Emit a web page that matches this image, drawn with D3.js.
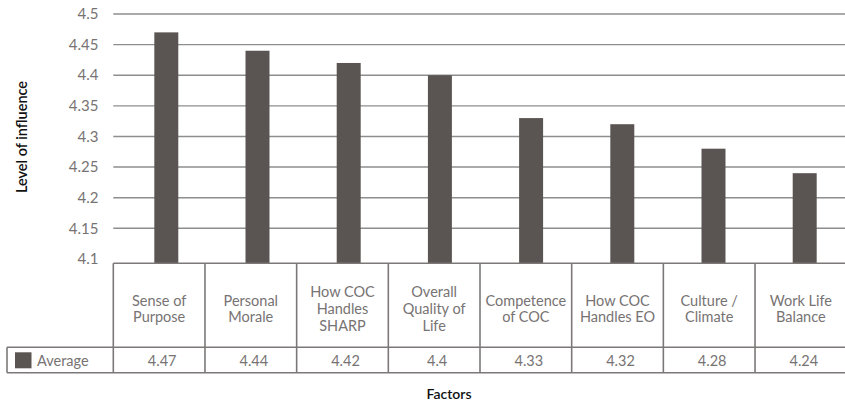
<!DOCTYPE html>
<html>
<head>
<meta charset="utf-8">
<script src="https://cdn.jsdelivr.net/npm/d3@7"></script>
<style>
  html, body { margin: 0; padding: 0; background: #fff; }
  svg { display: block; }
  text { font-family: Lato, "Open Sans", sans-serif; }
</style>
</head>
<body>
<svg id="chart" width="845" height="405"></svg>
<script>
// Factor names (line breaks as shown in the table header cells)
const categories = [
  "Sense of\nPurpose",
  "Personal\nMorale",
  "How COC\nHandles\nSHARP",
  "Overall\nQuality of\nLife",
  "Competence\nof COC",
  "How COC\nHandles EO",
  "Culture /\nClimate",
  "Work Life\nBalance"
];
const seriesName = "Average";
const averages = [4.47, 4.44, 4.42, 4.4, 4.33, 4.32, 4.28, 4.24];
const yTickValues = [4.1, 4.15, 4.2, 4.25, 4.3, 4.35, 4.4, 4.45, 4.5];
const yTickLabels = ["4.1", "4.15", "4.2", "4.25", "4.3", "4.35", "4.4", "4.45", "4.5"];
const yTitle = "Level of influence";
const xTitle = "Factors";

const svg = d3.select("#chart");

const barColor = "#5a5553";
const gridColor = "#8e8e8e";
const tableLine = "#7c7878";
const textGray = "#777373";

// Layout
const tableLeft = 113.3, tableRight = 846.7;
const tableTop = 263.3, headerBottom = 347.3, tableBottom = 372.7;
const legendLeft = 7;

const y = d3.scaleLinear().domain([4.1, 4.5]).range([258.9, 14]);
const xBars = d3.scaleBand().domain(categories).range([120.7, 850.3]);
const xTable = d3.scaleBand().domain(categories).range([tableLeft, tableRight]);
const barWidth = xBars.bandwidth() * 0.263;

// Gridlines
svg.append("g").selectAll("line")
  .data(yTickValues.filter(v => v > 4.1))
  .join("line")
  .attr("x1", tableLeft).attr("x2", 847)
  .attr("y1", d => y(d)).attr("y2", d => y(d))
  .attr("stroke", gridColor).attr("stroke-width", 1.4);

// Y tick labels
svg.append("g").selectAll("text")
  .data(yTickValues)
  .join("text")
  .attr("x", 98.5)
  .attr("y", d => y(d))
  .attr("dy", "0.35em")
  .attr("text-anchor", "end")
  .attr("font-size", 15)
  .attr("fill", textGray)
  .text((d, i) => yTickLabels[i]);

// Bars
svg.append("g").selectAll("rect")
  .data(averages)
  .join("rect")
  .attr("x", (d, i) => xBars(categories[i]) + (xBars.bandwidth() - barWidth) / 2)
  .attr("y", d => y(d))
  .attr("width", barWidth)
  .attr("height", d => tableTop - y(d))
  .attr("fill", barColor);

// Data table
const tbl = svg.append("g").attr("stroke", tableLine).attr("stroke-width", 1.6).attr("fill", "none");
tbl.append("line").attr("x1", tableLeft).attr("x2", 847).attr("y1", tableTop).attr("y2", tableTop);
tbl.append("line").attr("x1", legendLeft).attr("x2", 847).attr("y1", headerBottom).attr("y2", headerBottom);
tbl.append("line").attr("x1", legendLeft).attr("x2", 847).attr("y1", tableBottom).attr("y2", tableBottom);
tbl.append("line").attr("x1", legendLeft).attr("x2", legendLeft).attr("y1", headerBottom).attr("y2", tableBottom);
tbl.selectAll("line.col")
  .data(categories)
  .join("line")
  .attr("class", "col")
  .attr("x1", d => xTable(d)).attr("x2", d => xTable(d))
  .attr("y1", tableTop).attr("y2", tableBottom);

// Header cells: factor names
const lh = 16.8;
const headerMid = 314;
svg.append("g").selectAll("text")
  .data(categories)
  .join("text")
  .attr("text-anchor", "middle")
  .attr("font-size", 14.5)
  .attr("fill", textGray)
  .each(function(d) {
    const lines = d.split("\n");
    const cx = xTable(d) + xTable.bandwidth() / 2;
    const first = headerMid - (lines.length - 1) * lh / 2;
    d3.select(this).selectAll("tspan")
      .data(lines)
      .join("tspan")
      .attr("x", cx)
      .attr("y", (l, i) => first + i * lh)
      .text(l => l);
  });

// Value row
svg.append("g").selectAll("text")
  .data(averages)
  .join("text")
  .attr("x", (d, i) => xTable(categories[i]) + xTable.bandwidth() / 2 + 3)
  .attr("y", 365.5)
  .attr("text-anchor", "middle")
  .attr("font-size", 14.5)
  .attr("fill", textGray)
  .text(d => d3.format("")(d));

// Legend key in the series cell
svg.append("rect")
  .attr("x", 15).attr("y", 352.3).attr("width", 16.5).attr("height", 16)
  .attr("fill", barColor);
svg.append("text")
  .attr("x", 37).attr("y", 365.5)
  .attr("font-size", 14.5)
  .attr("fill", textGray)
  .text(seriesName);

// Axis titles
svg.append("text")
  .attr("transform", "translate(27,137) rotate(-90)")
  .attr("text-anchor", "middle")
  .attr("font-size", 14.5)
  .attr("font-weight", 600)
  .attr("fill", "#111")
  .text(yTitle);
svg.append("text")
  .attr("x", 449).attr("y", 399)
  .attr("text-anchor", "middle")
  .attr("font-size", 14)
  .attr("font-weight", 600)
  .attr("fill", "#111")
  .text(xTitle);
</script>
</body>
</html>
